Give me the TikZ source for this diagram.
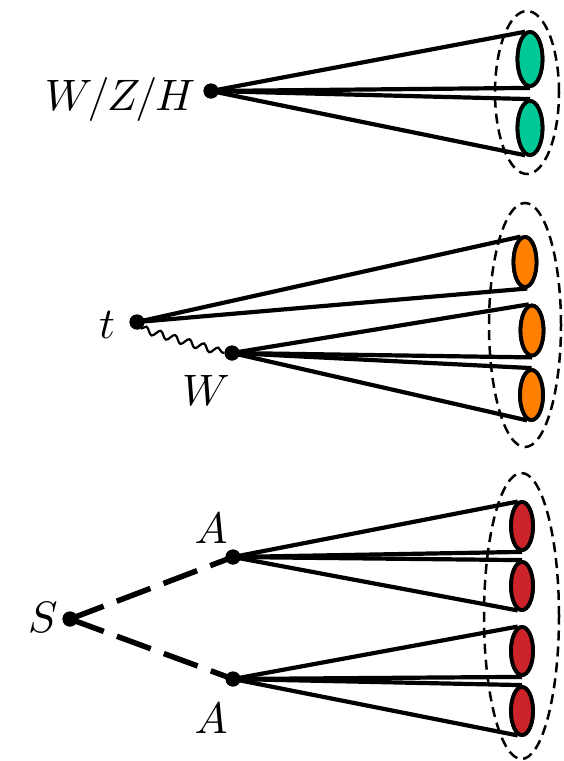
\documentclass[tikz,border=0pt]{standalone}
\usepackage{graphicx}
\usetikzlibrary{shapes.geometric,decorations.pathmorphing}
\definecolor{jetgreen}{RGB}{0,200,150}
\definecolor{jetorange}{RGB}{255,128,0}
\definecolor{jetred}{RGB}{204,34,41}
\newcommand{\biglbl}[1]{\scalebox{4.4}{#1}}
\begin{document}
\begin{tikzpicture}[x=1pt,y=-1pt,
  vtx/.style={circle,fill=black,inner sep=0pt,minimum size=15pt},
  jet/.style={ellipse,draw=black,line width=3.8pt,inner sep=0pt},
  gjet/.style={jet,fill=jetgreen,minimum width=25pt,minimum height=54pt},
  ojet/.style={jet,fill=jetorange,minimum width=23pt,minimum height=50pt},
  rjet/.style={jet,fill=jetred,minimum width=22pt,minimum height=48pt},
  cone/.style={line width=4.2pt},
  envelope/.style={ellipse,draw=black,line width=2.5pt,dash pattern=on 10pt off 6pt,inner sep=0pt},
  lbl/.style={inner sep=0pt},
  scalar/.style={line width=5.5pt,dash pattern=on 36pt off 14pt},
  boson/.style={line width=2.2pt,decorate,decoration={snake,amplitude=3.5pt,segment length=15pt}}]
\useasboundingbox (0,0) rectangle (563,761);

% ---------- top: W/Z/H ----------
\node[envelope,minimum width=64pt,minimum height=163pt] (env1) at (527,92.5) {};
\node[vtx] (v1) at (211,91) {};
\node[gjet] (g1) at (530,59) {};
\node[gjet] (g2) at (530,128) {};
\draw[cone] (v1.center) -- (g1.100);
\draw[cone] (v1.center) -- (g1.south);
\draw[cone] (v1.center) -- (g2.north);
\draw[cone] (v1.center) -- (g2.-100);
\node[gjet] at (g1) {};
\node[gjet] at (g2) {};
\node[vtx] at (v1) {};
\node[lbl,anchor=base] (lv1) at (120,110) {\biglbl{$W\mkern-2mu/\mkern-1mu Z\mkern-2mu/\mkern-1mu H$}};

% ---------- middle: top ----------
\node[envelope,minimum width=72pt,minimum height=244pt] (env2) at (525,325) {};
\node[vtx] (t) at (137,322) {};
\node[vtx] (w) at (232,353) {};
\node[ojet] (o1) at (525,262) {};
\node[ojet] (o2) at (532,330.5) {};
\node[ojet] (o3) at (531.5,395) {};
\draw[boson] (t.-60) -- (w.west);
\draw[cone] (t.center) -- (o1.100);
\draw[cone] (t.center) -- (o1.-85);
\draw[cone] (w.center) -- (o2.97);
\draw[cone] (w.center) -- (o2.south);
\draw[cone] (w.center) -- (o3.north);
\draw[cone] (w.center) -- (o3.-100);
\node[ojet] at (o1) {};
\node[ojet] at (o2) {};
\node[ojet] at (o3) {};
\node[vtx] at (t) {};
\node[vtx] at (w) {};
\node[lbl,anchor=base] (lt) at (107,338) {\biglbl{$t$}};
\node[lbl,anchor=base] (lw) at (206,405) {\biglbl{$W$}};

% ---------- bottom: S -> AA ----------
\node[envelope,minimum width=75pt,minimum height=286pt] (env3) at (521.5,616) {};
\node[vtx] (s) at (70,619) {};
\node[vtx] (a1) at (233,557) {};
\node[vtx] (a2) at (233,679) {};
\node[rjet] (r1) at (522,526) {};
\node[rjet] (r2) at (522,586) {};
\node[rjet] (r3) at (522,651) {};
\node[rjet] (r4) at (522,711) {};
\draw[scalar] (s.center) -- (a1.center);
\draw[scalar] (s.center) -- (a2.center);
\draw[cone] (a1.center) -- (r1.100);
\draw[cone] (a1.center) -- (r1.south);
\draw[cone] (a1.center) -- (r2.north);
\draw[cone] (a1.center) -- (r2.-100);
\draw[cone] (a2.center) -- (r3.100);
\draw[cone] (a2.center) -- (r3.south);
\draw[cone] (a2.center) -- (r4.north);
\draw[cone] (a2.center) -- (r4.-100);
\node[rjet] at (r1) {};
\node[rjet] at (r2) {};
\node[rjet] at (r3) {};
\node[rjet] at (r4) {};
\node[vtx] at (a1) {};
\node[vtx] at (a2) {};
\node[vtx] at (s) {};
\node[lbl,anchor=base] (la1) at (211,543) {\biglbl{$A$}};
\node[lbl,anchor=base] (la2) at (211,733) {\biglbl{$A$}};
\node[lbl,anchor=base] (ls) at (43,632) {\biglbl{$S$}};
\end{tikzpicture}
\end{document}
